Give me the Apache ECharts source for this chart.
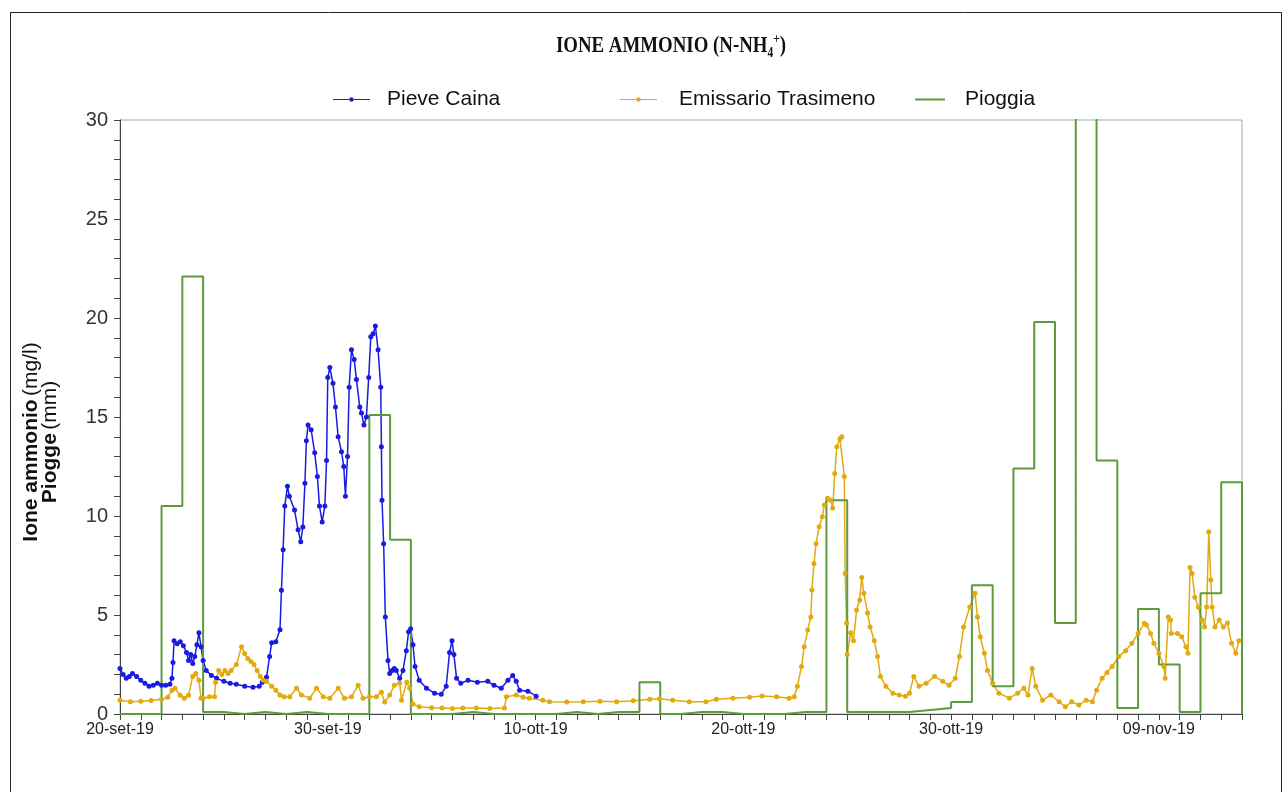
<!DOCTYPE html>
<html><head><meta charset="utf-8">
<script src="https://cdn.jsdelivr.net/npm/echarts@6/dist/echarts.min.js"></script>
<style>html,body{margin:0;padding:0;background:#fff}#c{width:1284px;height:792px}</style>
</head><body><div id="c"></div>
<script>
// x-axis tick labels (every 10 days starting 20-set-19)
const xTickLabels = ['20-set-19', '30-set-19', '10-ott-19', '20-ott-19', '30-ott-19', '09-nov-19'];

// Pieve Caina: time (days since 20-set-19) and NH4 (mg/l)
const pieveDays = [0.0,0.15,0.3,0.45,0.6,0.8,1.0,1.2,1.4,1.6,1.8,2.0,2.2,2.4,2.5,2.55,2.6,2.75,2.9,3.05,3.2,3.3,3.4,3.5,3.6,3.7,3.8,3.9,4.0,4.15,4.4,4.65,5.0,5.3,5.6,6.0,6.4,6.7,6.85,7.05,7.2,7.3,7.5,7.7,7.77,7.85,7.93,8.06,8.15,8.4,8.57,8.7,8.8,8.9,8.97,9.05,9.2,9.37,9.5,9.6,9.73,9.86,9.94,10.0,10.1,10.25,10.37,10.5,10.66,10.77,10.85,10.95,11.03,11.14,11.27,11.38,11.54,11.62,11.74,11.86,11.97,12.07,12.18,12.29,12.42,12.55,12.58,12.61,12.69,12.77,12.9,12.98,13.1,13.2,13.3,13.46,13.62,13.78,13.89,13.99,14.1,14.2,14.4,14.75,15.14,15.46,15.7,15.86,15.98,16.07,16.2,16.4,16.75,17.2,17.7,18.0,18.35,18.67,18.9,19.07,19.23,19.63,20.03];
const pieveValues = [2.3,2.0,1.8,1.9,2.05,1.9,1.7,1.55,1.4,1.45,1.55,1.45,1.45,1.5,1.8,2.6,3.7,3.55,3.65,3.45,3.1,2.7,3.0,2.55,2.9,3.5,4.1,3.4,2.7,2.2,1.95,1.8,1.65,1.55,1.5,1.4,1.35,1.4,1.6,1.85,2.9,3.6,3.65,4.25,6.25,8.3,10.5,11.5,11.0,10.3,9.3,8.7,9.45,11.65,13.8,14.6,14.35,13.2,12.0,10.5,9.7,10.5,12.8,17.0,17.5,16.7,15.5,14.0,13.25,12.5,11.0,13.0,16.5,18.4,17.9,16.9,15.5,15.2,14.6,15.0,17.0,19.05,19.2,19.6,18.4,16.5,13.5,10.8,8.6,4.9,2.7,2.05,2.2,2.3,2.2,1.8,2.2,3.2,4.15,4.3,3.5,2.4,1.7,1.3,1.05,1.0,1.4,3.1,3.7,3.0,1.8,1.55,1.7,1.6,1.65,1.45,1.3,1.7,1.95,1.65,1.2,1.15,0.9];

// Emissario Trasimeno
const emissarioDays = [0.0,0.5,1.0,1.5,2.0,2.3,2.5,2.65,2.9,3.1,3.3,3.5,3.65,3.8,3.9,4.0,4.3,4.55,4.6,4.75,4.9,5.05,5.2,5.35,5.6,5.85,6.0,6.15,6.3,6.45,6.6,6.75,6.9,7.05,7.3,7.5,7.7,7.9,8.17,8.5,8.73,9.13,9.46,9.78,10.1,10.5,10.8,11.14,11.46,11.7,12.0,12.34,12.58,12.74,12.98,13.2,13.46,13.55,13.8,13.94,14.1,14.4,15.0,15.5,16.0,16.5,17.15,17.8,18.5,18.6,19.07,19.4,19.7,20.35,20.67,21.5,22.3,23.1,23.9,24.7,25.5,25.96,26.6,27.4,28.2,28.7,29.5,30.3,30.9,31.6,32.2,32.45,32.6,32.8,32.93,33.1,33.25,33.3,33.4,33.5,33.65,33.8,33.9,34.05,34.2,34.3,34.4,34.5,34.65,34.74,34.86,34.9,34.97,35.0,35.17,35.3,35.45,35.6,35.7,35.8,35.98,36.1,36.3,36.46,36.6,36.86,37.2,37.5,37.8,38.0,38.2,38.46,38.8,39.2,39.6,39.9,40.2,40.4,40.6,40.9,41.15,41.27,41.4,41.6,41.75,42.0,42.3,42.8,43.2,43.5,43.7,43.9,44.07,44.4,44.8,45.2,45.5,45.8,46.15,46.5,46.8,47.0,47.27,47.5,47.75,48.07,48.4,48.7,49.0,49.3,49.4,49.6,49.76,50.0,50.24,50.3,50.45,50.56,50.6,50.9,51.1,51.3,51.4,51.5,51.6,51.73,51.9,52.07,52.2,52.3,52.4,52.5,52.56,52.7,52.9,53.1,53.3,53.5,53.7,53.85];
const emissarioValues = [0.7,0.62,0.65,0.68,0.74,0.85,1.2,1.3,0.95,0.8,0.95,1.9,2.05,1.7,0.8,0.8,0.87,0.87,1.6,2.2,2.0,2.2,2.05,2.2,2.5,3.4,3.05,2.8,2.65,2.5,2.2,1.9,1.7,1.65,1.4,1.2,0.96,0.87,0.87,1.3,0.96,0.8,1.3,0.87,0.8,1.3,0.8,0.87,1.45,0.8,0.87,0.87,1.1,0.6,0.96,1.45,1.55,0.7,1.6,1.3,0.5,0.37,0.32,0.3,0.28,0.3,0.3,0.28,0.3,0.87,0.96,0.85,0.8,0.7,0.62,0.6,0.62,0.65,0.62,0.67,0.74,0.77,0.7,0.62,0.62,0.74,0.79,0.84,0.91,0.87,0.8,0.87,1.4,2.4,3.4,4.24,4.9,6.26,7.6,8.6,9.46,9.96,10.55,10.9,10.8,10.4,12.15,13.5,13.9,14.0,12.0,7.1,4.6,3.0,4.1,3.7,5.25,5.76,6.9,6.1,5.1,4.4,3.7,2.9,1.9,1.4,1.05,0.96,0.9,1.05,1.9,1.4,1.55,1.9,1.65,1.45,1.8,2.9,4.4,5.4,6.1,4.9,3.9,3.07,2.2,1.55,1.05,0.8,1.05,1.3,0.96,2.3,1.4,0.7,0.96,0.62,0.37,0.62,0.45,0.7,0.62,1.2,1.8,2.1,2.4,2.9,3.2,3.57,4.07,4.58,4.5,4.07,3.57,3.07,2.4,1.8,4.9,4.75,4.07,4.07,3.9,3.4,3.07,7.4,7.1,5.9,5.4,4.75,4.4,5.4,9.2,6.77,5.4,4.4,4.75,4.4,4.6,3.57,3.07,3.7];

// Pioggia: daily rain (mm), one value per day from 20-set-19
const pioggiaValues = [0,0,10.5,22.1,0.1,0,0.1,0,0.1,0,0,0,15.1,8.8,0,0,0.1,0,0,0,0,0.1,0,0.1,0.1,1.6,0,0.1,0.1,0,0,0,0.1,0.1,10.8,0.1,0.1,0.1,0.2,0.3,0.6,6.5,1.4,12.4,19.8,4.6,45,12.8,0.3,5.3,2.5,0.1,6.1,11.7];

const seriesNames = ['Pieve Caina', 'Emissario Trasimeno', 'Pioggia'];
const colors = ['#1a1ae0', '#e2aa10', '#5c9a3e'];

const pieveData = pieveDays.map((d, i) => [d, pieveValues[i]]);
const emisData = emissarioDays.map((d, i) => [d, emissarioValues[i]]);
const rainData = pioggiaValues.map((v, i) => [i, v]);
rainData.push([pioggiaValues.length, pioggiaValues[pioggiaValues.length - 1]]);
rainData.push([pioggiaValues.length, 0]);

const chart = echarts.init(document.getElementById('c'), null, {renderer: 'canvas'});
const font = 'Liberation Sans, Arial, sans-serif';
const dotLineIcon = 'path://M0 2.4H37V3.6H0Z M16.3 3A2.2 2.2 0 1 1 20.7 3A2.2 2.2 0 1 1 16.3 3Z';
const lineIcon = 'path://M0 0H30V2H0Z';
function legendFor(name, left, icon, w, h, pad) {
  return {
    data: [{name: name, icon: icon}], left: left, top: 89, padding: 0,
    itemWidth: w, itemHeight: h, selectedMode: false,
    textStyle: {fontSize: 21, fontFamily: font, color: '#111', padding: [0, 0, 0, pad]}
  };
}
chart.setOption({
  animation: false,
  backgroundColor: '#fff',
  grid: {left: 120, right: 42, top: 120, bottom: 78, show: true, borderColor: '#a8a8a8', borderWidth: 1},
  legend: [
    legendFor(seriesNames[0], 333, dotLineIcon, 37, 4.4, 12),
    legendFor(seriesNames[1], 620, dotLineIcon, 37, 4.4, 17),
    legendFor(seriesNames[2], 915, lineIcon, 30, 2, 15)
  ],
  xAxis: {
    type: 'value', min: 0, max: 54, interval: 1,
    axisLine: {onZero: false, lineStyle: {color: '#444', width: 1}},
    axisTick: {show: true, length: 6, lineStyle: {color: '#444'}},
    splitLine: {show: false},
    axisLabel: {
      formatter: v => (v % 10 === 0 && xTickLabels[v / 10]) ? xTickLabels[v / 10] : '',
      fontSize: 16, fontFamily: font, color: '#222', margin: 8
    }
  },
  yAxis: {
    type: 'value', min: 0, max: 30, interval: 1,
    axisLine: {show: true, lineStyle: {color: '#444', width: 1}},
    axisTick: {show: true, length: 6, lineStyle: {color: '#444'}},
    splitLine: {show: false},
    axisLabel: {
      formatter: v => (v % 5 === 0 ? String(v) : ''),
      fontSize: 20, fontFamily: font, color: '#333', margin: 12
    }
  },
  series: [
    {name: seriesNames[0], type: 'line', data: pieveData, symbol: 'circle', symbolSize: 5,
     lineStyle: {color: colors[0], width: 1.5}, itemStyle: {color: colors[0]}},
    {name: seriesNames[1], type: 'line', data: emisData, symbol: 'circle', symbolSize: 5,
     lineStyle: {color: colors[1], width: 1.5}, itemStyle: {color: colors[1]}},
    {name: seriesNames[2], type: 'line', data: rainData, step: 'end', symbol: 'none',
     lineStyle: {color: colors[2], width: 2}, itemStyle: {color: colors[2]}}
  ],
  graphic: [
    {type: 'rect', silent: true, shape: {x: 10.5, y: 12.5, width: 1271, height: 800},
     style: {fill: 'none', stroke: '#222', lineWidth: 1}},
    {type: 'text', x: 671, y: 46, scaleX: 0.82, silent: true,
     style: {
       text: '{t|IONE AMMONIO (N-NH}{s|4}{p|+}{t|)}',
       align: 'center', verticalAlign: 'middle',
       rich: {
         t: {fontFamily: 'Liberation Serif, Times New Roman, serif', fontWeight: 'bold', fontSize: 23, lineHeight: 28, fill: '#111'},
         s: {fontFamily: 'Liberation Serif, Times New Roman, serif', fontWeight: 'bold', fontSize: 14, lineHeight: 14, verticalAlign: 'bottom', fill: '#111'},
         p: {fontFamily: 'Liberation Serif, Times New Roman, serif', fontWeight: 'bold', fontSize: 14, lineHeight: 14, verticalAlign: 'top', fill: '#111'}
       }
     }},
    {type: 'text', x: 41, y: 442, rotation: Math.PI / 2, silent: true,
     style: {
       text: '{b|Ione ammonio} {n|(mg/l)}\n{b|Piogge} {n|(mm)}',
       align: 'center', verticalAlign: 'middle',
       rich: {
         b: {fontFamily: font, fontWeight: 'bold', fontSize: 21, lineHeight: 19, fill: '#111'},
         n: {fontFamily: font, fontSize: 21, lineHeight: 19, fill: '#111'}
       }
     }}
  ]
});
</script>
</body></html>
